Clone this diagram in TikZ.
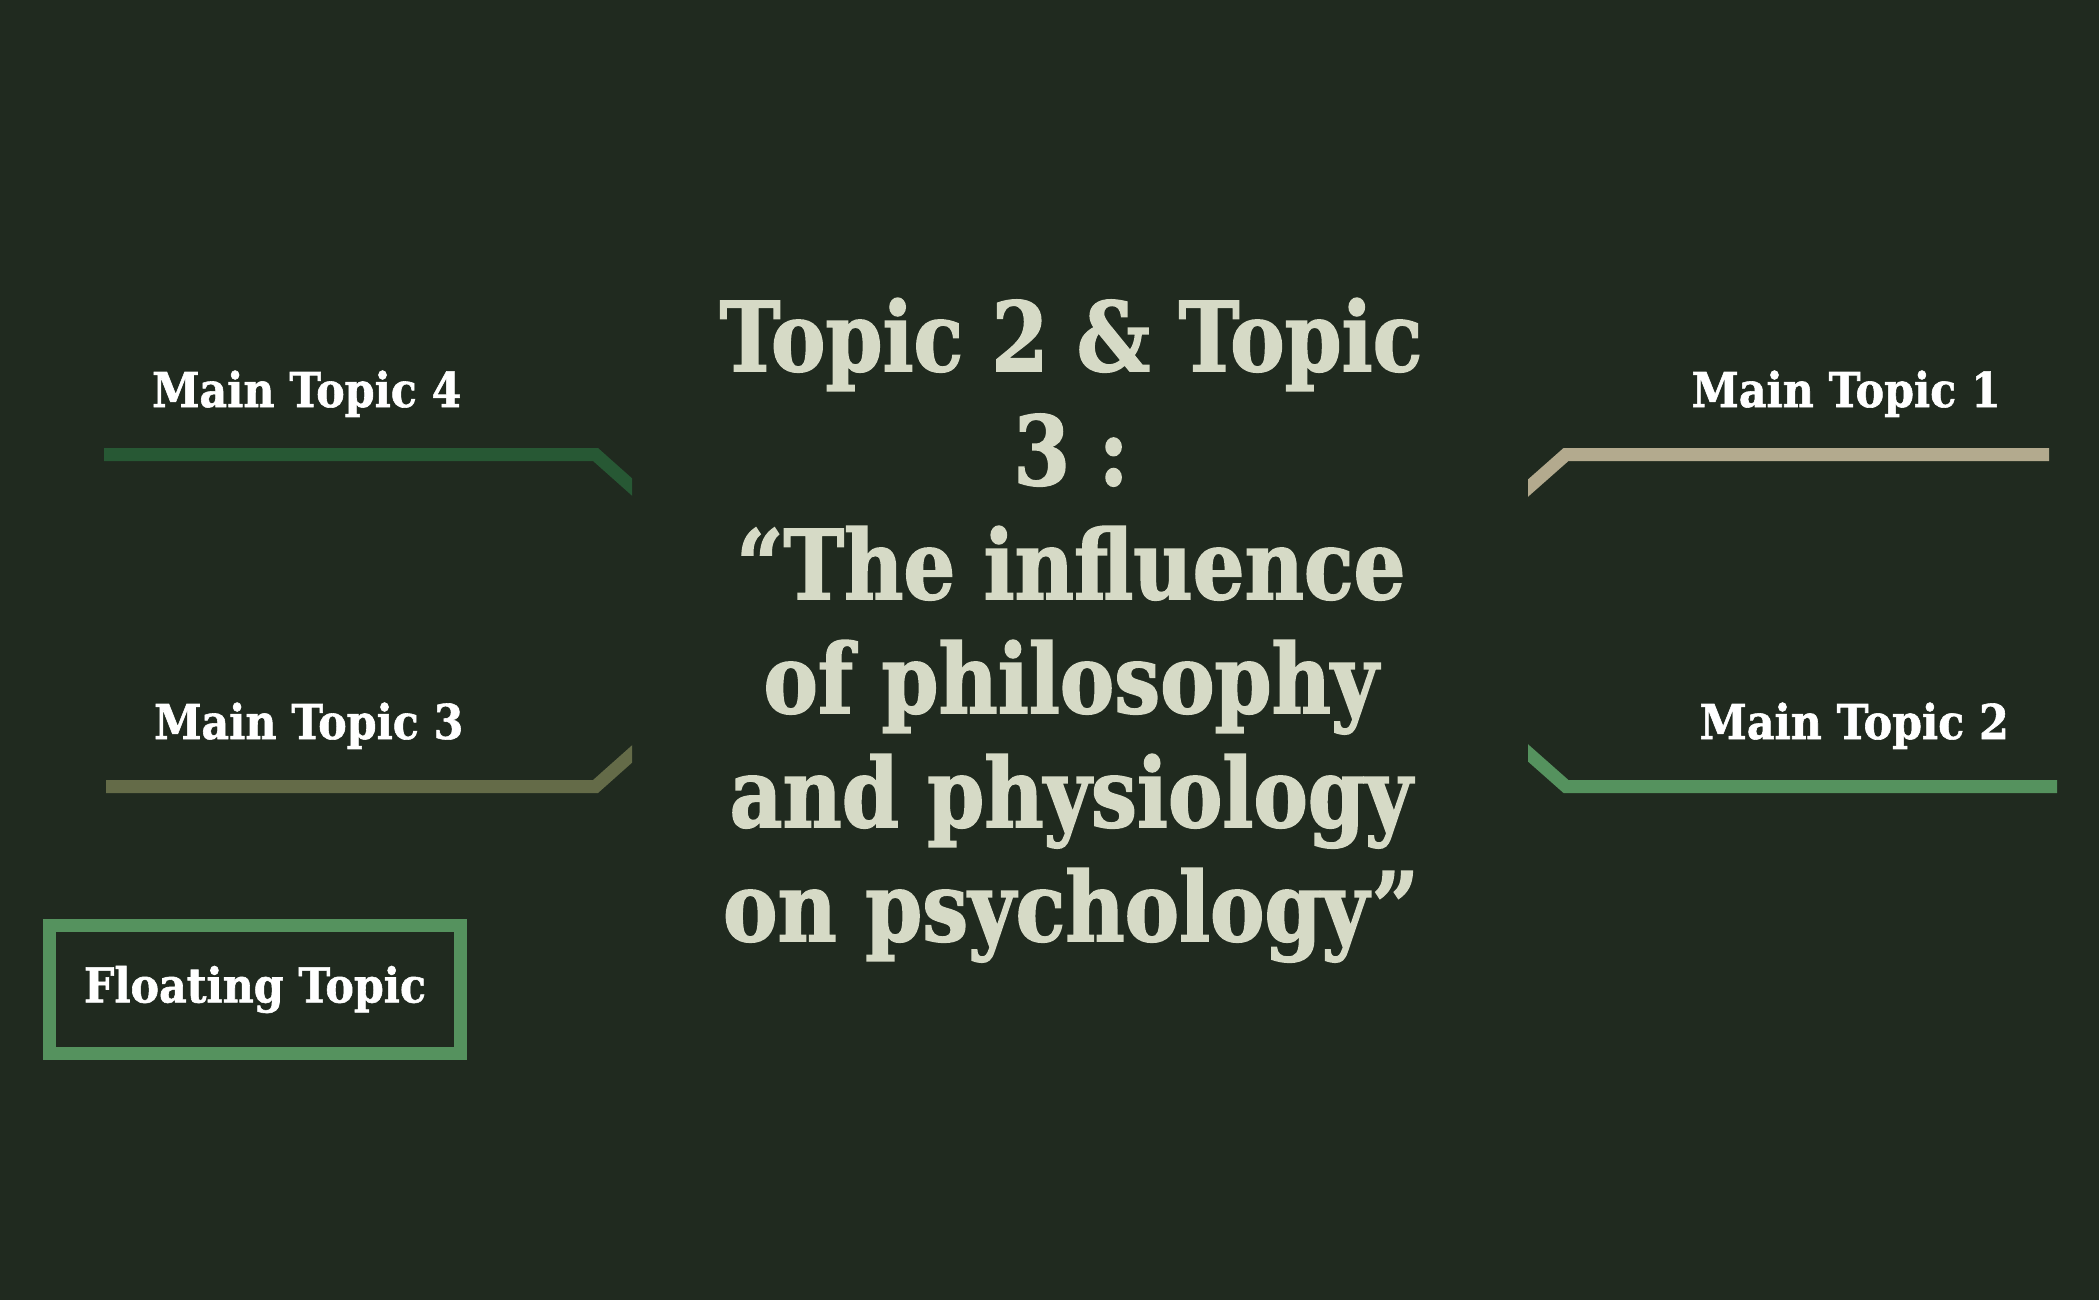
\documentclass[tikz,border=0pt]{standalone}
\usepackage{fontspec}
\newfontfamily\slab[FakeStretch=0.89, FakeBold=1.2]{DejaVu Serif}
\newfontfamily\slabtitle[FakeStretch=0.85, FakeBold=1.6]{DejaVu Serif}
\usetikzlibrary{positioning}

\definecolor{bg}{RGB}{32,42,31}
\definecolor{titlecol}{RGB}{214,218,198}
\definecolor{lineone}{RGB}{179,170,142}
\definecolor{linetwo}{RGB}{85,146,94}
\definecolor{linethree}{RGB}{100,107,72}
\definecolor{linefour}{RGB}{39,88,52}

\tikzset{
  maintopic/.style={font=\slab\bfseries\fontsize{48}{48}\selectfont, text=white, inner sep=0pt},
  titleline/.style={font=\slabtitle\bfseries\fontsize{96}{96}\selectfont, text=titlecol, inner sep=0pt, anchor=base},
  branch/.style={line width=13pt, line join=miter, line cap=butt}
}

\begin{document}
\begin{tikzpicture}[x=1pt,y=-1pt]
  % Фон
  \fill[bg] (0,0) rectangle (2099,1300);
  \useasboundingbox (0,0) rectangle (2099,1300);

  % Центральная тема
  \foreach \txt [count=\i] in {Topic 2 \& Topic, 3 :, “The influence, of philosophy, and physiology, on psychology”}
    \node[titleline] (title\i) at (1071,{371+114*(\i-1)}) {\txt};

  % Основные темы
  \node[maintopic, anchor=base west] (topic4) at (152,407) {Main Topic 4};
  \node[maintopic, anchor=base west] (topic3) at (154,739) {Main Topic 3};
  \node[maintopic, anchor=base east] (topic1) at (2001,407) {Main Topic 1};
  \node[maintopic, anchor=base east] (topic2) at (2009,739) {Main Topic 2};

  % Точки изгиба ветвей
  \coordinate (start4) at (104,454.5);
  \coordinate (bend4) at (595.5,454.5);
  \coordinate (end4) at (650,503);
  \coordinate (start3) at (106,786.5);
  \coordinate (bend3) at (595.5,786.5);
  \coordinate (end3) at (650,738);
  \coordinate (start1) at (2049,454.5);
  \coordinate (bend1) at (1566,454.5);
  \coordinate (end1) at (1510,504);
  \coordinate (start2) at (2057,786.5);
  \coordinate (bend2) at (1566,786.5);
  \coordinate (end2) at (1510,737);

  % Ветви слева
  \begin{scope}
    \clip (0,0) rectangle (632,1300);
    \draw[branch, linefour] (start4) -- (bend4) -- (end4);
    \draw[branch, linethree] (start3) -- (bend3) -- (end3);
  \end{scope}

  % Ветви справа
  \begin{scope}
    \clip (1528,0) rectangle (2099,1300);
    \draw[branch, lineone] (start1) -- (bend1) -- (end1);
    \draw[branch, linetwo] (start2) -- (bend2) -- (end2);
  \end{scope}

  % Плавающая тема
  \node[draw=linetwo, line width=13pt, minimum width=411pt, minimum height=128pt,
        maintopic, font=\slab\bfseries\fontsize{48}{48}\selectfont] (floating) at (255,989.5) {Floating Topic};
\end{tikzpicture}
\end{document}
